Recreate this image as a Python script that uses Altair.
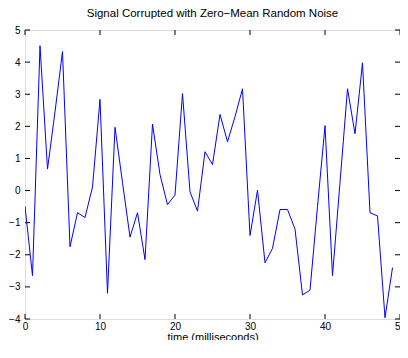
import altair as alt
import pandas as pd

# time (ms) and noisy signal values
t = list(range(50))
signal = [-0.49, -2.65, 4.51, 0.67, 2.45, 4.33, -1.75, -0.69, -0.84, 0.11,
          2.84, -3.2, 1.97, 0.25, -1.45, -0.69, -2.15, 2.07, 0.5, -0.44,
          -0.14, 3.02, -0.04, -0.64, 1.21, 0.81, 2.37, 1.52, 2.3, 3.17,
          -1.4, 0.01, -2.25, -1.8, -0.59, -0.59, -1.2, -3.25, -3.1, -0.5,
          2.02, -2.65, 0.25, 3.17, 1.77, 3.98, -0.69, -0.79, -3.96, -2.4]
xticks = [0, 10, 20, 30, 40, 50]
yticks = [-4, -3, -2, -1, 0, 1, 2, 3, 4, 5]

W, H = 375, 289
FONT = "Liberation Sans"

xscale = alt.Scale(domain=[0, 50], nice=False, zero=False)
yscale = alt.Scale(domain=[-4, 5], nice=False, zero=False)

xaxis = alt.Axis(values=xticks, tickSize=0, domain=False, grid=False,
                 labelFlush=False, labelPadding=2, labelFontSize=10,
                 labelColor="#000", labelFont=FONT, title="time (milliseconds)",
                 titleFont=FONT, titleFontSize=11, titleFontWeight="normal",
                 titleColor="#000", titlePadding=0)
yaxis = alt.Axis(values=yticks, tickSize=0, domain=False, grid=False,
                 labelFlush=False, labelPadding=5, labelFontSize=10,
                 labelColor="#000", labelFont=FONT, title=None)

df = pd.DataFrame({"t": t, "v": signal})

line = alt.Chart(df).mark_line(color="#0000ff", strokeWidth=1, clip=True).encode(
    x=alt.X("t:Q", scale=xscale, axis=xaxis),
    y=alt.Y("v:Q", scale=yscale, axis=yaxis),
)

xt = pd.DataFrame({"t": xticks})
yt = pd.DataFrame({"v": yticks})
TL = 5

bottom = alt.Chart(xt).mark_rule(color="#000", strokeWidth=1).encode(
    x=alt.X("t:Q", scale=xscale, axis=xaxis), y=alt.value(H), y2=alt.value(H - TL))
top = alt.Chart(xt).mark_rule(color="#000", strokeWidth=1).encode(
    x=alt.X("t:Q", scale=xscale, axis=xaxis), y=alt.value(0), y2=alt.value(TL))
left = alt.Chart(yt).mark_rule(color="#000", strokeWidth=1).encode(
    y=alt.Y("v:Q", scale=yscale, axis=yaxis), x=alt.value(0), x2=alt.value(TL))
right = alt.Chart(yt).mark_rule(color="#000", strokeWidth=1).encode(
    y=alt.Y("v:Q", scale=yscale, axis=yaxis), x=alt.value(W), x2=alt.value(W - TL))

chart = alt.layer(line, bottom, top, left, right).properties(
    width=W, height=H,
    autosize=alt.AutoSizeParams(type="none"),
    padding={"left": 17, "top": 22, "right": 0, "bottom": 21},
    title=alt.TitleParams("Signal Corrupted with Zero\u2212Mean Random Noise",
                          font=FONT, fontSize=11.5, fontWeight="normal",
                          color="#000", offset=6, anchor="middle"),
).configure_view(stroke="#000", strokeWidth=1).configure(background="white")

chart.save("out.html", embed_options={"renderer": "svg", "actions": False})
